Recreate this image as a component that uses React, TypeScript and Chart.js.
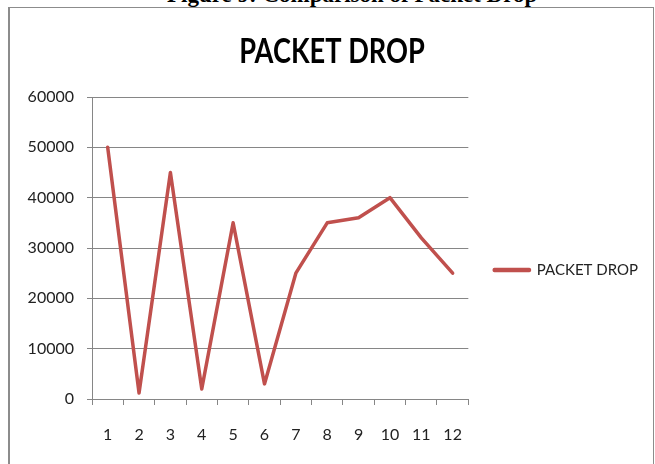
import React, { useEffect, useRef } from "react";
import { Chart, registerables } from "chart.js";

Chart.register(...registerables);

const caption = "Figure 9: Comparison of Packet Drop";
const chartTitle = "PACKET DROP";
const seriesName = "PACKET DROP";
const categories = ["1", "2", "3", "4", "5", "6", "7", "8", "9", "10", "11", "12"];
const packetDrop = [50000, 1200, 45000, 2000, 35000, 3000, 25000, 35000, 36000, 40000, 32000, 25000];
const yTicks = [0, 10000, 20000, 30000, 40000, 50000, 60000];

const SANS = 'Lato, "Open Sans", "Liberation Sans", sans-serif';
const GRID = "#868686";
const RED = "#C0504D";
const TITLE_SCALE_X = 0.8;

// Draws the chart title in a condensed form (the original uses a narrow face)
const narrowTitlePlugin = {
  id: "narrowTitle",
  afterDraw(chart: any) {
    const tb = chart.titleBlock;
    if (!tb) return;
    const ctx = chart.ctx as CanvasRenderingContext2D;
    ctx.save();
    ctx.font = `bold 34px ${SANS}`;
    ctx.fillStyle = "#000";
    ctx.textAlign = "center";
    ctx.textBaseline = "alphabetic";
    ctx.translate((tb.left + tb.right) / 2 + 3, tb.top + 53);
    ctx.scale(TITLE_SCALE_X, 1);
    ctx.fillText(chart.options.plugins.title.text, 0, 0);
    ctx.restore();
  },
};

export default function App() {
  const ref = useRef<HTMLCanvasElement>(null);

  useEffect(() => {
    const chart = new Chart(ref.current!, {
      type: "line",
      data: {
        labels: categories,
        datasets: [
          {
            label: seriesName,
            data: packetDrop,
            borderColor: RED,
            backgroundColor: RED,
            borderWidth: 3.5,
            pointRadius: 0,
            tension: 0,
            borderJoinStyle: "round",
            borderCapStyle: "round",
          },
        ],
      },
      options: {
        animation: false,
        responsive: false,
        devicePixelRatio: 1,
        layout: { padding: { left: 0, right: 4, top: 0, bottom: 0 } },
        plugins: {
          title: {
            display: true,
            text: chartTitle,
            color: "rgba(0,0,0,0)",
            font: { family: SANS, size: 34, weight: "bold" },
            padding: { top: 19, bottom: 27.2 },
          },
          legend: {
            position: "right",
            maxWidth: 182,
            labels: {
              boxWidth: 35,
              boxHeight: 1,
              padding: 26,
              color: "#222",
              font: { family: SANS, size: 15 },
            },
          },
          tooltip: { enabled: false },
        },
        scales: {
          x: {
            type: "category",
            offset: true,
            grid: {
              display: true,
              offset: true,
              drawOnChartArea: false,
              drawTicks: true,
              tickLength: 6,
              color: GRID,
            },
            border: { color: GRID },
            ticks: { padding: 20, color: "#222", font: { family: SANS, size: 16 }, maxRotation: 0 },
            afterFit: (s: any) => {
              s.height = 131;
            },
          },
          y: {
            min: 0,
            max: 60000,
            grid: { color: GRID, tickLength: 5 },
            border: { color: GRID },
            ticks: {
              padding: 13,
              color: "#222",
              font: { family: SANS, size: 16 },
              callback: (v: any) => String(v),
            },
            afterBuildTicks: (s: any) => {
              s.ticks = yTicks.map((v) => ({ value: v }));
            },
            afterFit: (s: any) => {
              s.width = 82;
            },
          },
        },
      },
      plugins: [narrowTitlePlugin],
    });
    return () => chart.destroy();
  }, []);

  return (
    <div
      style={{
        position: "fixed",
        left: 0,
        top: 0,
        width: 655,
        height: 464,
        overflow: "hidden",
        background: "#fff",
      }}
    >
      <div
        style={{
          position: "absolute",
          left: 167,
          top: -17,
          whiteSpace: "nowrap",
          fontFamily: '"Liberation Serif", "Times New Roman", serif',
          fontWeight: "bold",
          fontSize: 23,
          lineHeight: "23px",
          color: "#000",
        }}
      >
        {caption}
      </div>
      <div
        style={{
          position: "absolute",
          left: 8,
          top: 7,
          width: 643,
          height: 540,
          borderTop: "1px solid #8c8c8c",
          borderRight: "1px solid #8c8c8c",
          borderLeft: "2px solid #8c8c8c",
          background: "#fff",
        }}
      >
        <canvas
          ref={ref}
          width={642}
          height={520}
          style={{ position: "absolute", left: 0, top: 2, display: "block" }}
        />
      </div>
    </div>
  );
}
